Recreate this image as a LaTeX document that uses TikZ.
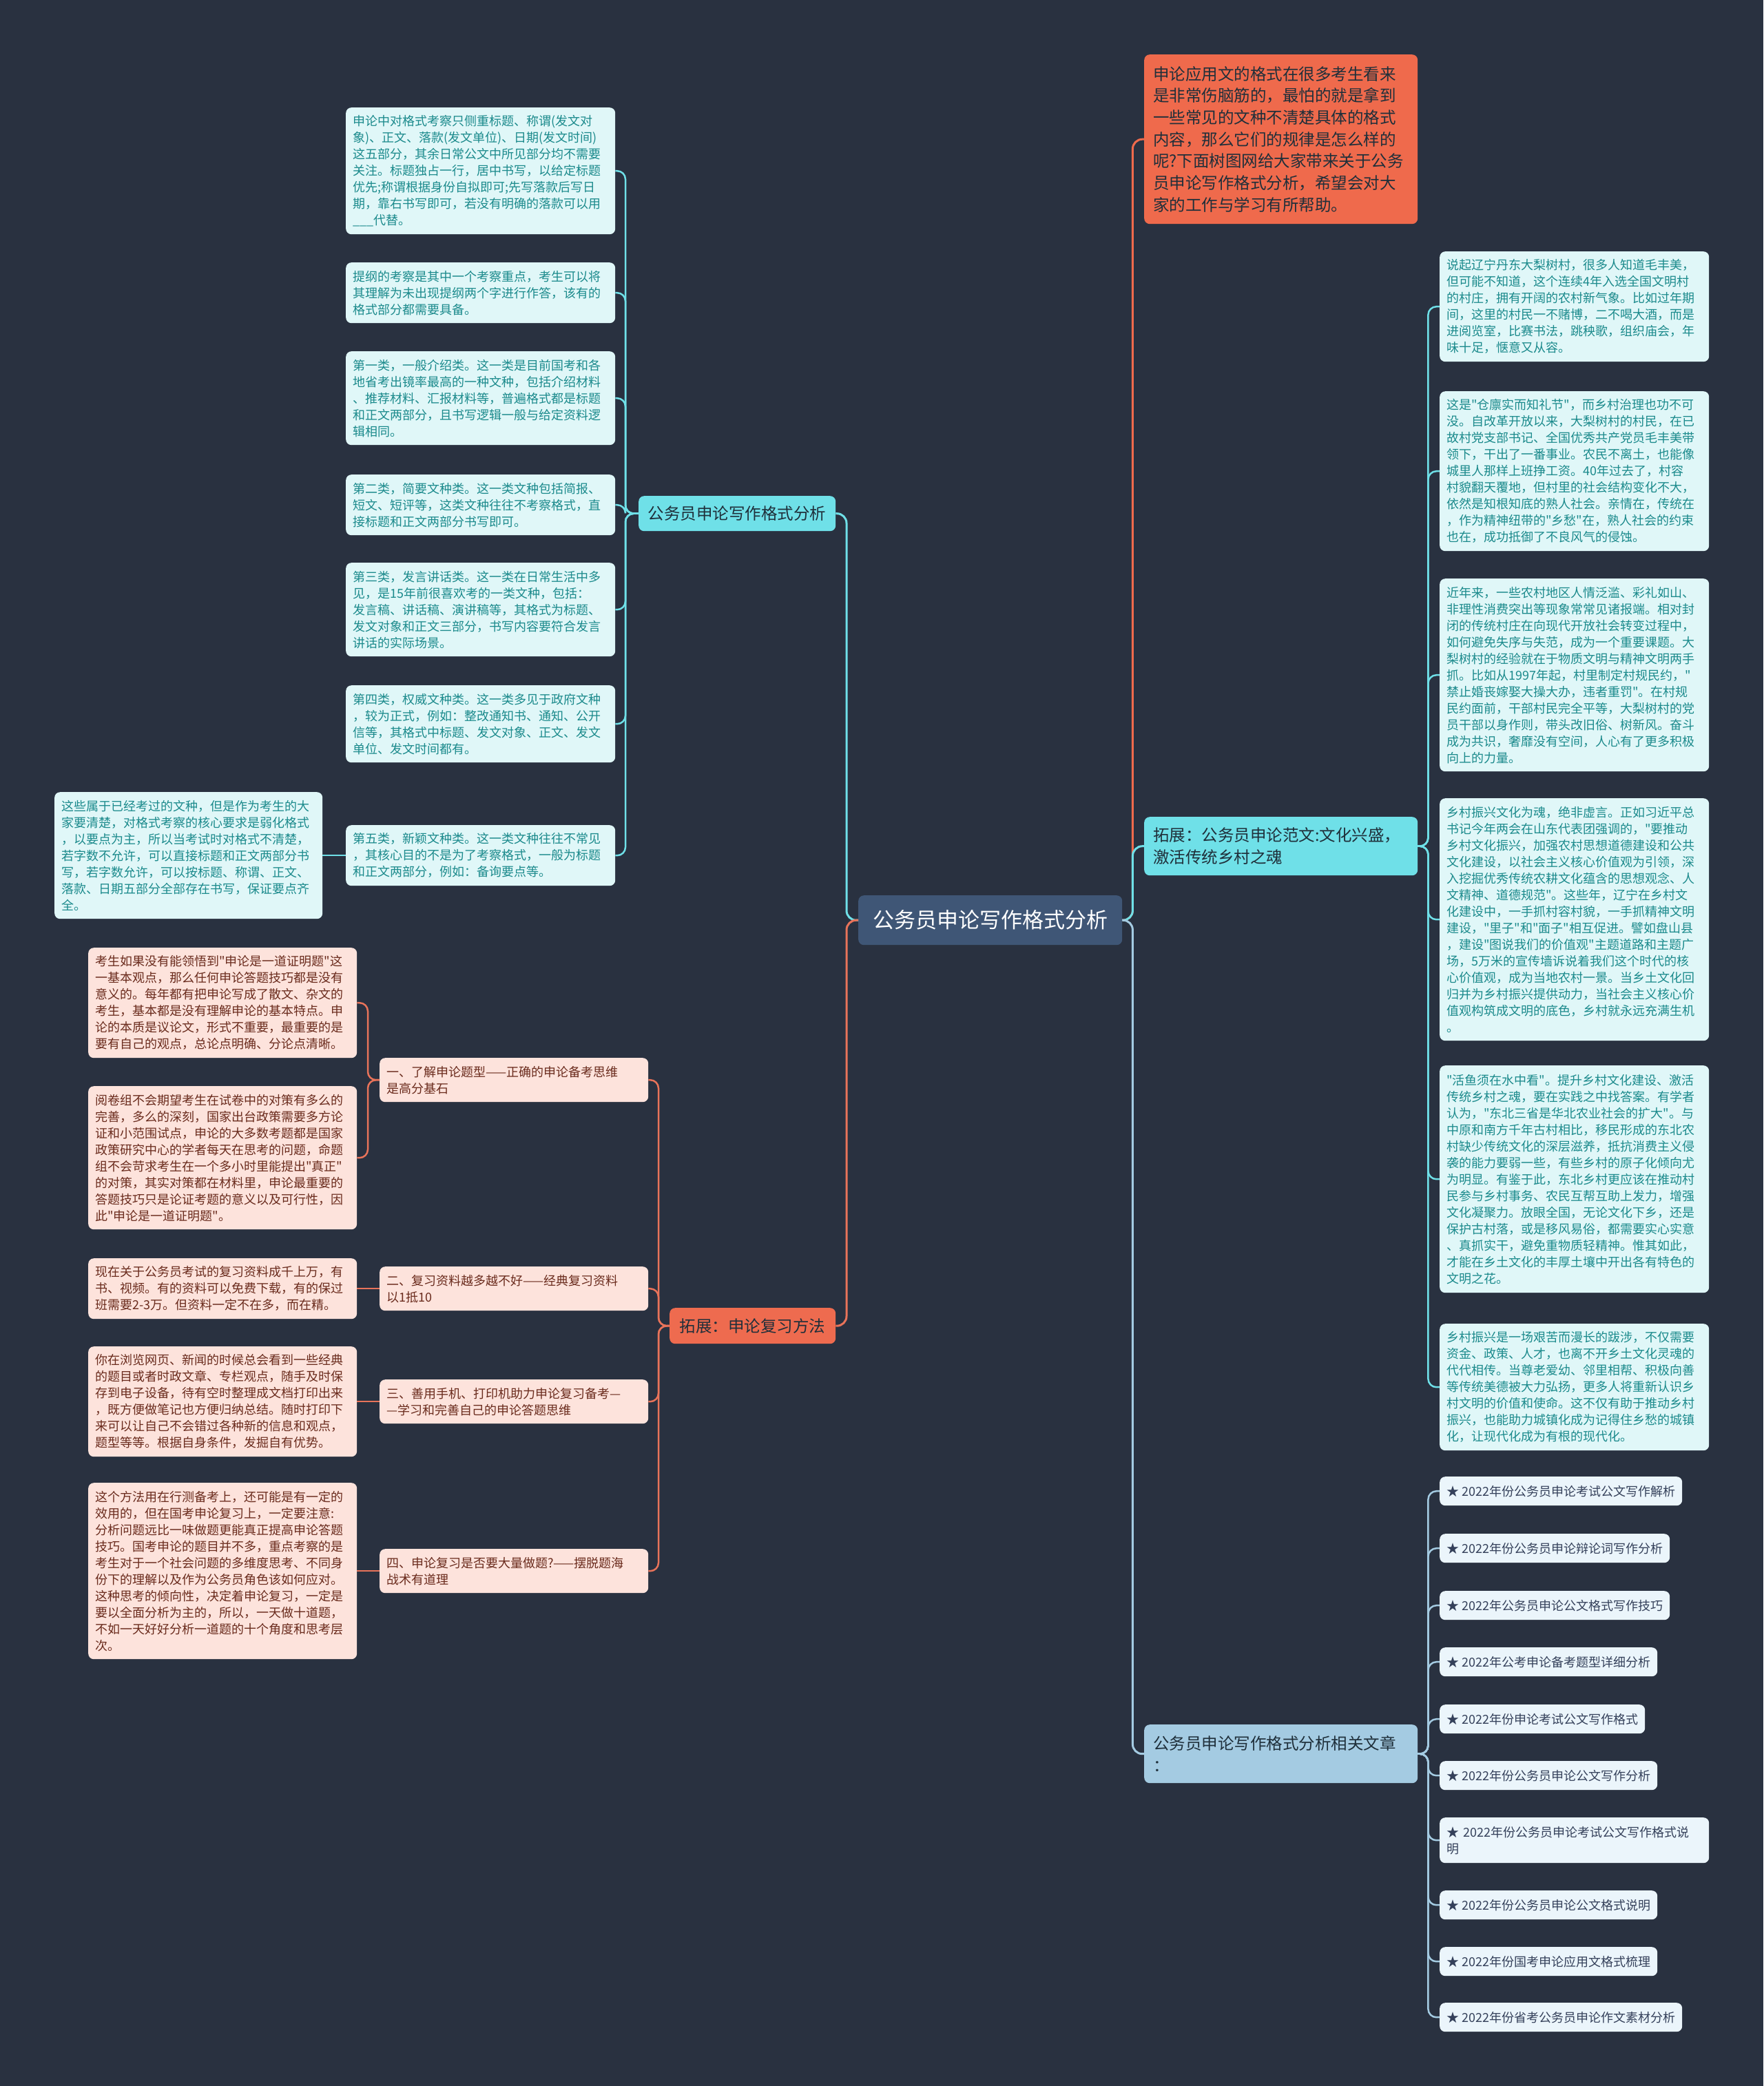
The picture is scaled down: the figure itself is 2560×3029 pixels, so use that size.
\documentclass[tikz,border=0pt]{standalone}
\usepackage{fontspec}
\setmainfont{Noto Sans CJK SC}[Ligatures=TeXOff]
\definecolor{bg}{HTML}{293140}
\definecolor{cyanmain}{HTML}{6FE0E8}
\definecolor{cyanlight}{HTML}{E0F7F8}
\definecolor{tealtext}{HTML}{1B8A8C}
\definecolor{salmonmain}{HTML}{EE6B4F}
\definecolor{salmonline}{HTML}{E8735A}
\definecolor{salmonlight}{HTML}{FDE3DC}
\definecolor{browntext}{HTML}{6A2B1D}
\definecolor{orangemain}{HTML}{EF6A4C}
\definecolor{bluemain}{HTML}{A4CBE2}
\definecolor{linkfill}{HTML}{EBF5FB}
\definecolor{linktext}{HTML}{34405A}
\definecolor{centerfill}{HTML}{3F5676}
\definecolor{darktext}{HTML}{1F2F3A}
\tikzset{
  nd/.style={rounded corners=8pt, inner xsep=10pt, inner ysep=4pt, align=left, anchor=north west},
  cyc/.style={nd, fill=cyanlight, text=tealtext, font=\fontsize{18}{24}\selectfont},
  sac/.style={nd, fill=salmonlight, text=browntext, font=\fontsize{18}{24}\selectfont},
  lk/.style={nd, fill=linkfill, text=linktext, font=\fontsize{18}{24}\selectfont},
  bigbox/.style={nd, inner xsep=13pt, font=\fontsize{23.5}{31.7}\selectfont},
  conn/.style={line width=2.5pt, rounded corners=12pt},
  mainconn/.style={line width=3pt, rounded corners=14pt},
}
\newcommand\bx[7]{\pgfmathsetmacro\tw{#4-20}\node[#6, text width=\tw pt, minimum height=#5pt] (#1) at (#2,#3) {#7};}
\begin{document}
\begin{tikzpicture}[x=1pt,y=-1pt]
\fill[bg] (0,0) rectangle (2560,3029);
\useasboundingbox (0,0) rectangle (2560,3029);

% center
\node[nd, fill=centerfill, text=white, font=\fontsize{31}{38}\selectfont, minimum width=383pt, minimum height=72pt, inner xsep=0pt, align=center] (center) at (1246,1300) {公务员申论写作格式分析};

% left branches
\node[nd, fill=cyanmain, text=darktext, font=\fontsize{23.5}{30}\selectfont, minimum width=286pt, minimum height=51pt, inner xsep=0pt, align=center] (b1) at (927,720) {公务员申论写作格式分析};
\node[nd, fill=salmonmain, text=darktext, font=\fontsize{23.5}{30}\selectfont, minimum width=241pt, minimum height=52pt, inner xsep=0pt, align=center] (b2) at (972,1899) {拓展：申论复习方法};

% right branches
\node[bigbox, fill=orangemain, text=darktext, text width=371pt, minimum height=246pt] (top) at (1661,79) {申论应用文的格式在很多考生看来\\是非常伤脑筋的，最怕的就是拿到\\一些常见的文种不清楚具体的格式\\内容，那么它们的规律是怎么样的\\呢?下面树图网给大家带来关于公务\\员申论写作格式分析，希望会对大\\家的工作与学习有所帮助。};
\node[bigbox, fill=cyanmain, text=darktext, text width=371pt, minimum height=85pt] (b3) at (1661,1186) {拓展：公务员申论范文:文化兴盛，\\激活传统乡村之魂};
\node[bigbox, fill=bluemain, text=darktext, text width=371pt, minimum height=85pt] (b4) at (1661,2504) {公务员申论写作格式分析相关文章\\：};

% cyan children
\bx{c1}{502}{156}{391}{184}{cyc}{申论中对格式考察只侧重标题、称谓(发文对\\象)、正文、落款(发文单位)、日期(发文时间)\\这五部分，其余日常公文中所见部分均不需要\\关注。标题独占一行，居中书写，以给定标题\\优先;称谓根据身份自拟即可;先写落款后写日\\期，靠右书写即可，若没有明确的落款可以用\\\_\_\_代替。}
\bx{c2}{502}{381}{391}{88}{cyc}{提纲的考察是其中一个考察重点，考生可以将\\其理解为未出现提纲两个字进行作答，该有的\\格式部分都需要具备。}
\bx{c3}{502}{510}{391}{136}{cyc}{第一类，一般介绍类。这一类是目前国考和各\\地省考出镜率最高的一种文种，包括介绍材料\\、推荐材料、汇报材料等，普遍格式都是标题\\和正文两部分，且书写逻辑一般与给定资料逻\\辑相同。}
\bx{c4}{502}{689}{391}{88}{cyc}{第二类，简要文种类。这一类文种包括简报、\\短文、短评等，这类文种往往不考察格式，直\\接标题和正文两部分书写即可。}
\bx{c5}{502}{817}{391}{136}{cyc}{第三类，发言讲话类。这一类在日常生活中多\\见，是15年前很喜欢考的一类文种，包括：\\发言稿、讲话稿、演讲稿等，其格式为标题、\\发文对象和正文三部分，书写内容要符合发言\\讲话的实际场景。}
\bx{c6}{502}{995}{391}{112}{cyc}{第四类，权威文种类。这一类多见于政府文种\\，较为正式，例如：整改通知书、通知、公开\\信等，其格式中标题、发文对象、正文、发文\\单位、发文时间都有。}
\bx{c7}{502}{1198}{391}{88}{cyc}{第五类，新颖文种类。这一类文种往往不常见\\，其核心目的不是为了考察格式，一般为标题\\和正文两部分，例如：备询要点等。}
\bx{f1}{79}{1150}{389}{184}{cyc}{这些属于已经考过的文种，但是作为考生的大\\家要清楚，对格式考察的核心要求是弱化格式\\，以要点为主，所以当考试时对格式不清楚，\\若字数不允许，可以直接标题和正文两部分书\\写，若字数允许，可以按标题、称谓、正文、\\落款、日期五部分全部存在书写，保证要点齐\\全。}

% salmon children
\bx{s1}{551}{1536}{390}{64}{sac}{一、了解申论题型——正确的申论备考思维\\是高分基石}
\bx{s2}{551}{1839}{390}{64}{sac}{二、复习资料越多越不好——经典复习资料\\以1抵10}
\bx{s3}{551}{2003}{390}{64}{sac}{三、善用手机、打印机助力申论复习备考—\\—学习和完善自己的申论答题思维}
\bx{s4}{551}{2249}{390}{64}{sac}{四、申论复习是否要大量做题?——摆脱题海\\战术有道理}
\bx{s1a}{128}{1376}{390}{160}{sac}{考生如果没有能领悟到"申论是一道证明题"这\\一基本观点，那么任何申论答题技巧都是没有\\意义的。每年都有把申论写成了散文、杂文的\\考生，基本都是没有理解申论的基本特点。申\\论的本质是议论文，形式不重要，最重要的是\\要有自己的观点，总论点明确、分论点清晰。}
\bx{s1b}{128}{1577}{390}{208}{sac}{阅卷组不会期望考生在试卷中的对策有多么的\\完善，多么的深刻，国家出台政策需要多方论\\证和小范围试点，申论的大多数考题都是国家\\政策研究中心的学者每天在思考的问题，命题\\组不会苛求考生在一个多小时里能提出"真正"\\的对策，其实对策都在材料里，申论最重要的\\答题技巧只是论证考题的意义以及可行性，因\\此"申论是一道证明题"。}
\bx{s2a}{128}{1827}{390}{88}{sac}{现在关于公务员考试的复习资料成千上万，有\\书、视频。有的资料可以免费下载，有的保过\\班需要2-3万。但资料一定不在多，而在精。}
\bx{s3a}{128}{1955}{390}{160}{sac}{你在浏览网页、新闻的时候总会看到一些经典\\的题目或者时政文章、专栏观点，随手及时保\\存到电子设备，待有空时整理成文档打印出来\\，既方便做笔记也方便归纳总结。随时打印下\\来可以让自己不会错过各种新的信息和观点，\\题型等等。根据自身条件，发掘自有优势。}
\bx{s4a}{128}{2153}{390}{256}{sac}{这个方法用在行测备考上，还可能是有一定的\\效用的，但在国考申论复习上，一定要注意:\\分析问题远比一味做题更能真正提高申论答题\\技巧。国考申论的题目并不多，重点考察的是\\考生对于一个社会问题的多维度思考、不同身\\份下的理解以及作为公务员角色该如何应对。\\这种思考的倾向性，决定着申论复习，一定是\\要以全面分析为主的，所以，一天做十道题，\\不如一天好好分析一道题的十个角度和思考层\\次。}

% right children
\bx{r1}{2090}{365}{391}{160}{cyc}{说起辽宁丹东大梨树村，很多人知道毛丰美，\\但可能不知道，这个连续4年入选全国文明村\\的村庄，拥有开阔的农村新气象。比如过年期\\间，这里的村民一不赌博，二不喝大酒，而是\\进阅览室，比赛书法，跳秧歌，组织庙会，年\\味十足，惬意又从容。}
\bx{r2}{2090}{568}{391}{232}{cyc}{这是"仓廪实而知礼节"，而乡村治理也功不可\\没。自改革开放以来，大梨树村的村民，在已\\故村党支部书记、全国优秀共产党员毛丰美带\\领下，干出了一番事业。农民不离土，也能像\\城里人那样上班挣工资。40年过去了，村容\\村貌翻天覆地，但村里的社会结构变化不大，\\依然是知根知底的熟人社会。亲情在，传统在\\，作为精神纽带的"乡愁"在，熟人社会的约束\\也在，成功抵御了不良风气的侵蚀。}
\bx{r3}{2090}{840}{391}{280}{cyc}{近年来，一些农村地区人情泛滥、彩礼如山、\\非理性消费突出等现象常常见诸报端。相对封\\闭的传统村庄在向现代开放社会转变过程中，\\如何避免失序与失范，成为一个重要课题。大\\梨树村的经验就在于物质文明与精神文明两手\\抓。比如从1997年起，村里制定村规民约，"\\禁止婚丧嫁娶大操大办，违者重罚"。在村规\\民约面前，干部村民完全平等，大梨树村的党\\员干部以身作则，带头改旧俗、树新风。奋斗\\成为共识，奢靡没有空间，人心有了更多积极\\向上的力量。}
\bx{r4}{2090}{1159}{391}{352}{cyc}{乡村振兴文化为魂，绝非虚言。正如习近平总\\书记今年两会在山东代表团强调的，"要推动\\乡村文化振兴，加强农村思想道德建设和公共\\文化建设，以社会主义核心价值观为引领，深\\入挖掘优秀传统农耕文化蕴含的思想观念、人\\文精神、道德规范"。这些年，辽宁在乡村文\\化建设中，一手抓村容村貌，一手抓精神文明\\建设，"里子"和"面子"相互促进。譬如盘山县\\，建设"图说我们的价值观"主题道路和主题广\\场，5万米的宣传墙诉说着我们这个时代的核\\心价值观，成为当地农村一景。当乡土文化回\\归并为乡村振兴提供动力，当社会主义核心价\\值观构筑成文明的底色，乡村就永远充满生机\\。}
\bx{r5}{2090}{1547}{391}{330}{cyc}{"活鱼须在水中看"。提升乡村文化建设、激活\\传统乡村之魂，要在实践之中找答案。有学者\\认为，"东北三省是华北农业社会的扩大"。与\\中原和南方千年古村相比，移民形成的东北农\\村缺少传统文化的深层滋养，抵抗消费主义侵\\袭的能力要弱一些，有些乡村的原子化倾向尤\\为明显。有鉴于此，东北乡村更应该在推动村\\民参与乡村事务、农民互帮互助上发力，增强\\文化凝聚力。放眼全国，无论文化下乡，还是\\保护古村落，或是移风易俗，都需要实心实意\\、真抓实干，避免重物质轻精神。惟其如此，\\才能在乡土文化的丰厚土壤中开出各有特色的\\文明之花。}
\bx{r6}{2090}{1922}{391}{184}{cyc}{乡村振兴是一场艰苦而漫长的跋涉，不仅需要\\资金、政策、人才，也离不开乡土文化灵魂的\\代代相传。当尊老爱幼、邻里相帮、积极向善\\等传统美德被大力弘扬，更多人将重新认识乡\\村文明的价值和使命。这不仅有助于推动乡村\\振兴，也能助力城镇化成为记得住乡愁的城镇\\化，让现代化成为有根的现代化。}

% links
\node[lk, minimum height=42pt] (l1) at (2090,2144) {★ 2022年份公务员申论考试公文写作解析};
\node[lk, minimum height=42pt] (l2) at (2090,2227) {★ 2022年份公务员申论辩论词写作分析};
\node[lk, minimum height=42pt] (l3) at (2090,2310) {★ 2022年公务员申论公文格式写作技巧};
\node[lk, minimum height=42pt] (l4) at (2090,2392) {★ 2022年公考申论备考题型详细分析};
\node[lk, minimum height=42pt] (l5) at (2090,2475) {★ 2022年份申论考试公文写作格式};
\node[lk, minimum height=42pt] (l6) at (2090,2557) {★ 2022年份公务员申论公文写作分析};
\node[lk, minimum height=66pt, text width=371pt] (l7) at (2090,2639) {★ 2022年份公务员申论考试公文写作格式说\\明};
\node[lk, minimum height=42pt] (l8) at (2090,2745) {★ 2022年份公务员申论公文格式说明};
\node[lk, minimum height=42pt] (l9) at (2090,2827) {★ 2022年份国考申论应用文格式梳理};
\node[lk, minimum height=42pt] (l10) at (2090,2908) {★ 2022年份省考公务员申论作文素材分析};

% connectors from center
\draw[mainconn, cyanmain] (center.west) -- ++(-17,0) |- (b1.east);
\draw[mainconn, salmonline] (center.west) -- ++(-17,0) |- (b2.east);
\draw[mainconn, orangemain] (center.east) -- ++(15,0) |- (top.west);
\draw[mainconn, cyanmain] (center.east) -- ++(15,0) |- (b3.west);
\draw[mainconn, bluemain] (center.east) -- ++(15,0) |- (b4.west);

% cyan branch children
\foreach \c in {c1,c2,c3,c4,c5,c6,c7}
  \draw[conn, cyanmain] (b1.west) -- ++(-19,0) |- (\c.east);
\draw[conn, cyanmain] (c7.west) -- (f1.east |- c7.west);

% salmon branch children
\foreach \c in {s1,s2,s3,s4}
  \draw[conn, salmonline] (b2.west) -- ++(-16,0) |- (\c.east);
\draw[conn, salmonline] (s1.west) -- ++(-17,0) |- (s1a.east);
\draw[conn, salmonline] (s1.west) -- ++(-17,0) |- (s1b.east);
\draw[conn, salmonline] (s2.west) -- (s2a.east |- s2.west);
\draw[conn, salmonline] (s3.west) -- (s3a.east |- s3.west);
\draw[conn, salmonline] (s4.west) -- (s4a.east |- s4.west);

% right children
\foreach \c in {r1,r2,r3,r4,r5,r6}
  \draw[conn, cyanmain] (b3.east) -- ++(15,0) |- (\c.west);
\foreach \c in {l1,l2,l3,l4,l5,l6,l7,l8,l9,l10}
  \draw[conn, bluemain] (b4.east) -- ++(15,0) |- (\c.west);
\end{tikzpicture}
\end{document}
